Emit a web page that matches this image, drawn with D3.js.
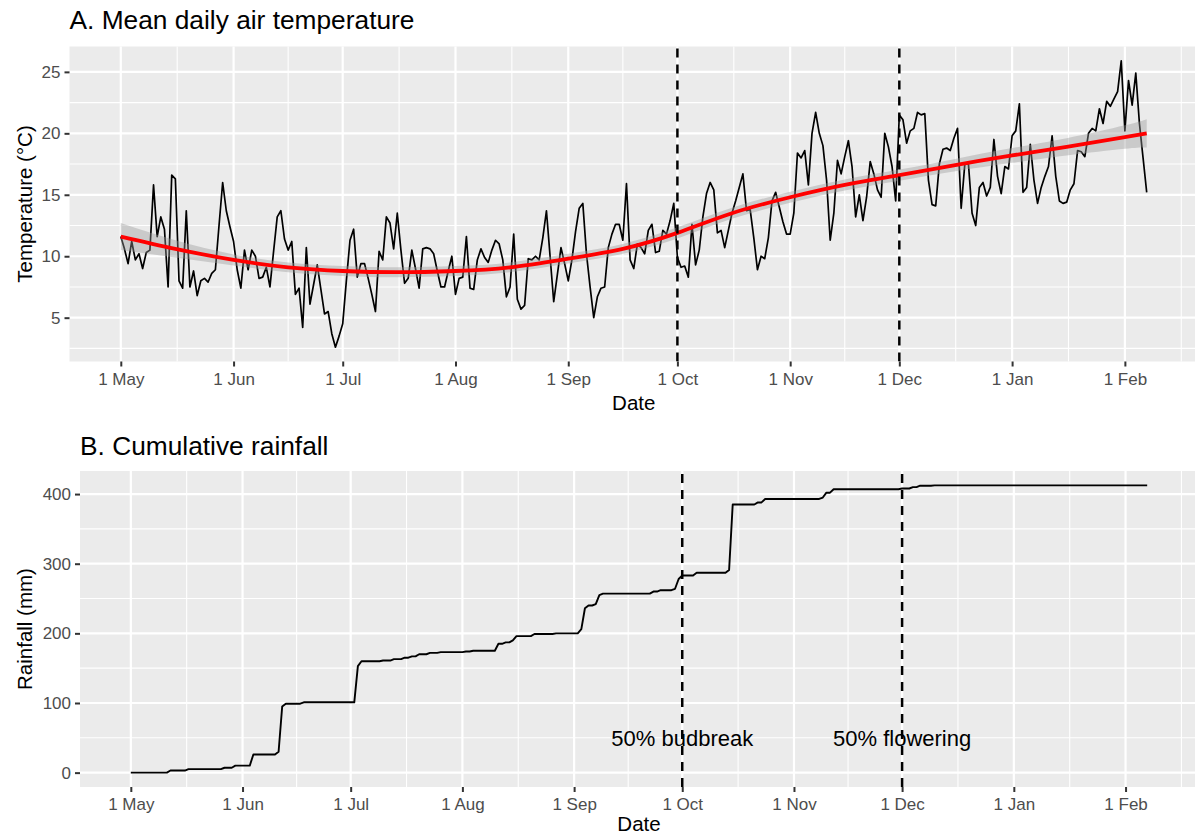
<!DOCTYPE html>
<html>
<head>
<meta charset="utf-8">
<script src="https://cdn.jsdelivr.net/npm/d3@7"></script>
<style>
  body { margin: 0; background: #fff; }
  svg { display: block; }
</style>
</head>
<body>
<svg id="chart" width="1195" height="836"></svg>
<script>
// ---- data ----
const startDate = new Date(2019, 4, 1); // 1 May, one value per day after that

// mean daily air temperature (°C)
const temperature = [
  11.6, 10.6, 9.4, 11.2, 9.7, 10.2, 9.0, 10.3, 10.5, 15.8,
  11.6, 13.2, 12.2, 7.5, 16.6, 16.3, 8.0, 7.4, 13.7, 7.5,
  8.8, 6.8, 8.0, 8.2, 7.9, 8.6, 8.9, 12.5, 16.0, 13.7,
  12.4, 11.2, 8.9, 7.4, 10.5, 8.9, 10.5, 10.0, 8.2, 8.3,
  9.1, 7.5, 10.4, 13.2, 13.7, 11.4, 10.5, 11.2, 6.9, 7.4,
  4.2, 10.7, 6.1, 7.7, 9.3, 7.3, 5.3, 5.5, 3.7, 2.6,
  3.5, 4.5, 8.0, 11.3, 12.2, 8.3, 9.4, 9.4, 8.2, 6.9,
  5.5, 10.4, 9.7, 13.2, 12.7, 10.6, 13.5, 10.5, 7.8, 8.2,
  10.5, 9.0, 7.4, 10.6, 10.7, 10.6, 10.2, 8.8, 7.5, 7.5,
  8.8, 10.0, 6.9, 8.2, 8.3, 11.6, 7.4, 7.3, 9.7, 10.6,
  9.9, 9.5, 10.5, 11.3, 11.0, 9.7, 6.7, 7.5, 11.8, 6.5,
  5.7, 6.0, 9.8, 9.7, 10.0, 9.7, 11.5, 13.7, 10.0, 6.3,
  8.5, 10.7, 9.4, 8.0, 9.7, 12.0, 13.9, 14.3, 10.2, 7.5,
  5.0, 6.7, 7.4, 7.5, 10.7, 11.8, 12.6, 12.6, 11.3, 15.9,
  9.7, 9.0, 11.0, 10.7, 10.2, 12.1, 12.6, 10.3, 10.4, 12.1,
  11.8, 12.9, 14.3, 9.9, 9.1, 9.2, 8.3, 12.6, 9.3, 10.5,
  13.2, 15.1, 16.0, 15.4, 11.9, 12.1, 10.7, 12.1, 13.5, 14.5,
  15.6, 16.7, 13.7, 13.8, 11.5, 8.9, 10.0, 9.8, 11.5, 14.5,
  15.2, 14.0, 12.8, 11.8, 11.8, 13.5, 18.4, 18.0, 18.6, 15.8,
  20.0, 21.7, 20.0, 19.0, 16.2, 11.3, 13.5, 17.8, 16.7, 18.1,
  19.4, 17.3, 13.2, 15.0, 12.9, 14.8, 17.7, 16.7, 15.4, 14.8,
  20.0, 18.9, 17.3, 14.5, 21.5, 21.1, 19.2, 20.2, 20.4, 21.7,
  21.5, 21.6, 16.2, 14.2, 14.1, 17.5, 18.7, 18.8, 18.6, 19.6,
  20.4, 13.9, 17.5, 17.5, 13.5, 12.5, 15.6, 16.0, 14.9, 15.6,
  19.5, 16.5, 15.1, 17.3, 17.1, 19.8, 20.2, 22.4, 15.2, 15.6,
  19.1, 16.2, 14.3, 15.6, 16.5, 17.3, 19.8, 16.5, 14.5, 14.3,
  14.4, 15.4, 15.9, 18.6, 18.5, 18.1, 20.0, 20.4, 20.2, 22.0,
  20.8, 22.6, 22.2, 22.8, 23.4, 25.9, 20.2, 24.3, 22.3, 24.9,
  20.8, 18.0, 15.2
];

// smoothed trend: day offset, fitted value, half width of the grey band
const smoothDay = [0, 15, 31, 46, 61, 76, 92, 107, 123, 138, 153, 168, 184, 199, 214, 229, 245, 260, 276, 282];
const smoothFit = [11.6, 10.6, 9.7, 9.1, 8.8, 8.7, 8.8, 9.1, 9.8, 10.6, 11.9, 13.5, 14.8, 15.8, 16.6, 17.4, 18.2, 18.9, 19.7, 20.0];
const smoothSe  = [1.1, 0.7, 0.45, 0.4, 0.4, 0.4, 0.4, 0.4, 0.4, 0.4, 0.45, 0.45, 0.45, 0.45, 0.45, 0.5, 0.6, 0.7, 0.95, 1.15];

// rain events: day offset and amount (mm)
const rainDay = [11, 16, 26, 29, 34, 41, 42, 43, 48, 63, 64, 70, 73, 76, 78, 80, 83, 86, 93, 95,
  102, 104, 106, 107, 112, 118, 125, 126, 127, 129, 130, 131, 145, 147, 151, 152, 153, 157,
  166, 167, 174, 176, 192, 193, 195, 214, 217, 219, 223];
const rainMm = [3, 2, 2, 3, 16, 4, 65, 4, 2, 52, 7, 1, 2, 2, 2, 3, 2, 1, 1, 1,
  10, 2, 3, 6, 3, 1, 6, 30, 4, 2, 13, 2, 3, 2, 2, 14, 5, 4,
  4, 94, 3, 5, 2, 7, 5, 1, 2, 2, 0.5];

const monthLabels = ["1 May", "1 Jun", "1 Jul", "1 Aug", "1 Sep", "1 Oct", "1 Nov", "1 Dec", "1 Jan", "1 Feb"];
const tempTicks = [5, 10, 15, 20, 25];
const rainTicks = [0, 100, 200, 300, 400];

const eventDates = [new Date(2019, 9, 1), new Date(2019, 11, 1)];
const eventLabels = ["50% budbreak", "50% flowering"];

// ---- derived series ----
const dates = temperature.map((_, i) => d3.timeDay.offset(startDate, i));
const monthTicks = monthLabels.map((_, i) => d3.timeMonth.offset(startDate, i));
const smoothDates = smoothDay.map((d) => d3.timeDay.offset(startDate, d));

const dailyRain = temperature.map(() => 0);
rainDay.forEach((d, i) => { dailyRain[d] += rainMm[i]; });
const cumRain = Array.from(d3.cumsum(dailyRain));

const font = "'Liberation Sans', Arial, Helvetica, sans-serif";
const panelRight = 1198;

const svg = d3.select("#chart").attr("font-family", font);

// ggplot style 5% expansion
const expand = ([a, b]) => {
  const p = (b - a) * 0.05;
  return [a - p, b + p];
};

// minor breaks halfway between majors, extended by one step on each side
const minorBreaks = (major, lo, hi) => {
  const step = major[1] - major[0];
  const ext = [major[0] - step, ...major, major[major.length - 1] + step];
  const out = [];
  for (let i = 0; i < ext.length - 1; i++) out.push((ext[i] + ext[i + 1]) / 2);
  return out.filter((v) => v > lo && v < hi);
};

function drawPanel({ top, bottom, left, yDomain, yTicks, yTitle, title, titleY, yTitleX, xTitleY }) {
  const x = d3
    .scaleTime()
    .domain(expand(d3.extent(dates, (d) => +d)).map((v) => new Date(v)))
    .range([left, panelRight]);

  const y = d3.scaleLinear().domain(expand(yDomain)).range([bottom, top]);

  const g = svg.append("g");

  // panel background
  g.append("rect")
    .attr("x", left)
    .attr("y", top)
    .attr("width", panelRight - left)
    .attr("height", bottom - top)
    .attr("fill", "#EBEBEB");

  // minor grid
  const [x0, x1] = x.domain().map(Number);
  const xMinor = minorBreaks(monthTicks.map(Number), x0, x1);
  const [y0, y1] = y.domain();
  const yMinor = minorBreaks(yTicks, y0, y1);

  g.selectAll(".xminor")
    .data(xMinor)
    .join("line")
    .attr("x1", (d) => x(d))
    .attr("x2", (d) => x(d))
    .attr("y1", top)
    .attr("y2", bottom)
    .attr("stroke", "#fff")
    .attr("stroke-width", 1.1);

  g.selectAll(".yminor")
    .data(yMinor)
    .join("line")
    .attr("x1", left)
    .attr("x2", panelRight)
    .attr("y1", (d) => y(d))
    .attr("y2", (d) => y(d))
    .attr("stroke", "#fff")
    .attr("stroke-width", 1.1);

  // major grid
  g.selectAll(".xmajor")
    .data(monthTicks)
    .join("line")
    .attr("x1", (d) => x(d))
    .attr("x2", (d) => x(d))
    .attr("y1", top)
    .attr("y2", bottom)
    .attr("stroke", "#fff")
    .attr("stroke-width", 2.2);

  g.selectAll(".ymajor")
    .data(yTicks)
    .join("line")
    .attr("x1", left)
    .attr("x2", panelRight)
    .attr("y1", (d) => y(d))
    .attr("y2", (d) => y(d))
    .attr("stroke", "#fff")
    .attr("stroke-width", 2.2);

  // axes
  const styleAxis = (a) => {
    a.select(".domain").remove();
    a.attr("font-family", font).attr("font-size", 17);
    a.selectAll(".tick line").attr("stroke", "#333333").attr("stroke-width", 2);
    a.selectAll(".tick text").attr("fill", "#4D4D4D");
  };

  g.append("g")
    .attr("transform", `translate(0,${bottom})`)
    .call(
      d3.axisBottom(x)
        .tickValues(monthTicks)
        .tickFormat((d, i) => monthLabels[i])
        .tickSize(5)
        .tickPadding(6)
    )
    .call(styleAxis);

  g.append("g")
    .attr("transform", `translate(${left},0)`)
    .call(d3.axisLeft(y).tickValues(yTicks).tickSize(5).tickPadding(4))
    .call(styleAxis);

  // axis titles
  g.append("text")
    .attr("x", (left + panelRight) / 2)
    .attr("y", xTitleY)
    .attr("text-anchor", "middle")
    .attr("font-size", 20.5)
    .attr("fill", "#000")
    .text("Date");

  g.append("text")
    .attr("transform", `translate(${yTitleX},${(top + bottom) / 2}) rotate(-90)`)
    .attr("text-anchor", "middle")
    .attr("font-size", 20.5)
    .attr("fill", "#000")
    .text(yTitle);

  // panel title
  g.append("text")
    .attr("x", left)
    .attr("y", titleY)
    .attr("font-size", 26.3)
    .attr("fill", "#000")
    .text(title);

  const clipId = "clip" + Math.round(top);
  g.append("clipPath")
    .attr("id", clipId)
    .append("rect")
    .attr("x", left)
    .attr("y", top)
    .attr("width", panelRight - left)
    .attr("height", bottom - top);

  const plot = g.append("g").attr("clip-path", `url(#${clipId})`);

  return { x, y, plot, top, bottom };
}

function drawEventLines({ x, plot, top, bottom }) {
  plot.selectAll(".event")
    .data(eventDates)
    .join("line")
    .attr("x1", (d) => x(d))
    .attr("x2", (d) => x(d))
    .attr("y1", bottom)
    .attr("y2", top)
    .attr("stroke", "#000")
    .attr("stroke-width", 2.5)
    .attr("stroke-dasharray", "9,7");
}

// ---- Panel A: temperature ----
const bandLo = smoothFit.map((v, i) => v - smoothSe[i]);
const bandHi = smoothFit.map((v, i) => v + smoothSe[i]);

const A = drawPanel({
  top: 46.5,
  bottom: 361.5,
  left: 69.5,
  yDomain: d3.extent([...temperature, ...bandLo, ...bandHi]),
  yTicks: tempTicks,
  yTitle: "Temperature (°C)",
  title: "A. Mean daily air temperature",
  titleY: 29,
  yTitleX: 31.5,
  xTitleY: 409.5
});

A.plot.append("path")
  .datum(temperature)
  .attr("fill", "none")
  .attr("stroke", "#000")
  .attr("stroke-width", 1.7)
  .attr("stroke-linejoin", "round")
  .attr("d", d3.line().x((d, i) => A.x(dates[i])).y((d) => A.y(d)));

A.plot.append("path")
  .datum(smoothFit)
  .attr("fill", "#999999")
  .attr("fill-opacity", 0.4)
  .attr(
    "d",
    d3.area()
      .curve(d3.curveNatural)
      .x((d, i) => A.x(smoothDates[i]))
      .y0((d, i) => A.y(bandLo[i]))
      .y1((d, i) => A.y(bandHi[i]))
  );

A.plot.append("path")
  .datum(smoothFit)
  .attr("fill", "none")
  .attr("stroke", "#FF0000")
  .attr("stroke-width", 3.8)
  .attr("d", d3.line().curve(d3.curveNatural).x((d, i) => A.x(smoothDates[i])).y((d) => A.y(d)));

drawEventLines(A);

// ---- Panel B: cumulative rainfall ----
const B = drawPanel({
  top: 471,
  bottom: 787,
  left: 80,
  yDomain: d3.extent(cumRain),
  yTicks: rainTicks,
  yTitle: "Rainfall (mm)",
  title: "B. Cumulative rainfall",
  titleY: 455,
  yTitleX: 32,
  xTitleY: 831
});

B.plot.append("path")
  .datum(cumRain)
  .attr("fill", "none")
  .attr("stroke", "#000")
  .attr("stroke-width", 1.9)
  .attr("stroke-linejoin", "round")
  .attr("d", d3.line().x((d, i) => B.x(dates[i])).y((d) => B.y(d)));

B.plot.selectAll(".event-label")
  .data(eventDates)
  .join("text")
  .attr("x", (d) => B.x(d))
  .attr("y", B.y(50))
  .attr("dy", "0.35em")
  .attr("text-anchor", "middle")
  .attr("font-size", 22)
  .attr("fill", "#000")
  .text((d, i) => eventLabels[i]);

drawEventLines(B);
</script>
</body>
</html>
